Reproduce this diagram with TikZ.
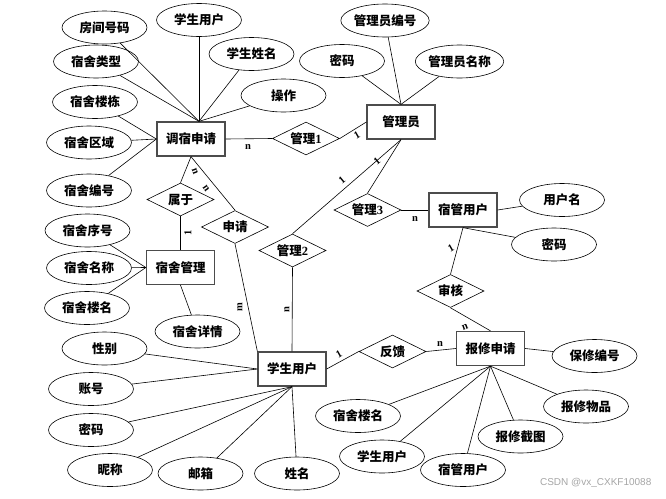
\documentclass[tikz,border=0pt]{standalone}
\usepackage{fontspec}
\setmainfont{Noto Sans CJK SC}
\newfontfamily\serifnum{Liberation Serif}
\newfontfamily\wmfont{Liberation Sans}
\usetikzlibrary{shapes.geometric}
\newcommand{\dg}[1]{{\serifnum\bfseries #1}}
\begin{document}
\begin{tikzpicture}[x=1pt,y=-1pt,
  every node/.style={font=\fontsize{12.5}{14}\selectfont\bfseries},
  ent/.style={draw=black!70, line width=1.3pt, rectangle, minimum width=68pt, minimum height=34pt, inner sep=0pt},
  rel/.style={draw, diamond, minimum width=67pt, minimum height=33pt, inner sep=0pt, aspect=2},
  attr/.style={draw, ellipse, minimum width=85pt, minimum height=33pt, inner sep=0pt},
  card/.style={font=\serifnum\fontsize{10.5}{10.5}\selectfont\bfseries, inner sep=0pt},
  conn/.style={line width=0.6pt},
  line width=0.6pt]
\fill[white] (0,0) rectangle (666,498);
\useasboundingbox (0,0) rectangle (666,498);

% entities
\node[ent] (tq) at (191,139) {调宿申请};
\node[ent] (gly) at (401,122) {管理员};
\node[ent] (sg) at (463,210) {宿管用户};
\node[ent] (sm) at (180.5,267.5) {宿舍管理};
\node[ent] (xs) at (292,369) {学生用户};
\node[ent] (bx) at (490.5,348.5) {报修申请};

% relations
\node[rel] (r1) at (306,138.5) {管理\dg{1}};
\node[rel] (r2) at (292.5,250.5) {管理\dg{2}};
\node[rel] (r3) at (367.5,210) {管理\dg{3}};
\node[rel] (sy) at (180.5,199.5) {属于};
\node[rel] (sq) at (235,227) {申请};
\node[rel] (sh) at (450.5,291) {审核};
\node[rel] (fk) at (392.5,351.5) {反馈};

% attributes of 调宿申请
\node[attr] (a1) at (104.5,27.5) {房间号码};
\node[attr] (a2) at (199,20) {学生用户};
\node[attr] (a3) at (251.5,54) {学生姓名};
\node[attr] (a4) at (96,61.5) {宿舍类型};
\node[attr] (a5) at (283.5,95.5) {操作};
\node[attr] (a6) at (95,102) {宿舍楼栋};
\node[attr] (a7) at (89,142.5) {宿舍区域};
\node[attr] (a8) at (89,190.5) {宿舍编号};

% attributes of 管理员
\node[attr] (b1) at (385,20.5) {管理员编号};
\node[attr] (b2) at (342,61) {密码};
\node[attr] (b3) at (459.5,61.5) {管理员名称};

% attributes of 宿管用户
\node[attr] (c1) at (562,200) {用户名};
\node[attr] (c2) at (554,244.5) {密码};

% attributes of 宿舍管理
\node[attr] (e1) at (87.5,230.5) {宿舍序号};
\node[attr] (e2) at (89,268) {宿舍名称};
\node[attr] (e3) at (87,308) {宿舍楼名};
\node[attr] (e4) at (197.5,331.5) {宿舍详情};

% attributes of 学生用户
\node[attr] (f1) at (104.5,348.5) {性别};
\node[attr] (f2) at (91,389) {账号};
\node[attr] (f3) at (91,430) {密码};
\node[attr] (f4) at (110,470) {昵称};
\node[attr] (f5) at (200.5,473.5) {邮箱};
\node[attr] (f6) at (297,473.5) {姓名};

% attributes of 报修申请
\node[attr] (d1) at (594.5,356) {保修编号};
\node[attr] (d2) at (586,406.5) {报修物品};
\node[attr] (d3) at (520.5,436.5) {报修截图};
\node[attr] (d4) at (463,470) {宿管用户};
\node[attr] (d5) at (382,456.5) {学生用户};
\node[attr] (d6) at (358,416) {宿舍楼名};

% connectors: 调宿申请
\coordinate (tqtop) at ([xshift=8pt]tq.north);
\foreach \n in {a1,a2,a3,a4,a5} \draw[conn] (\n) -- (tqtop);
\foreach \n in {a6,a7,a8} \draw[conn] (\n) -- (tq.west);
\draw[conn] (tq.east) -- (r1.west);
\draw[conn] (r1.east) -- (gly.west);
\draw[conn] (tq.south) -- (sy.north);
\draw[conn] (tq.south) -- (sq.north);

% 管理员
\foreach \n in {b1,b2,b3} \draw[conn] (\n) -- (gly.north);
\draw[conn] (gly.south) -- (r3.north);
\draw[conn] (gly.south) -- (r2.north);

% 宿管用户
\draw[conn] (r3.east) -- (sg.west);
\draw[conn] (sg.east) -- (c1);
\draw[conn] (sg.south) -- (c2);
\draw[conn] (sg.south) -- (sh.north);
\draw[conn] (sh.south) -- (bx.north);

% 宿舍管理
\draw[conn] (sy.south) -- (sm.north);
\foreach \n in {e1,e2,e3} \draw[conn] (\n) -- (sm.west);
\draw[conn] (sm.south) -- (e4);

% 学生用户
\draw[conn] (sq.south) -- (xs.north west);
\draw[conn] (r2.south) -- (xs.north);
\foreach \n in {f1,f2} \draw[conn] (\n) -- (xs.west);
\foreach \n in {f3,f4,f5,f6} \draw[conn] (\n) -- (xs.south);
\draw[conn] (xs.east) -- (fk.west);
\draw[conn] (fk.east) -- (bx.west);

% 报修申请
\draw[conn] (bx.east) -- (d1);
\foreach \n in {d2,d3,d4,d5,d6} \draw[conn] (\n) -- (bx.south);

% cardinality labels
\node[card] (k1) at (248,147) {n};
\node[card] (k2) at (357,135) [rotate=30] {1};
\node[card, rotate=-70] (k3) at (195,171) {n};
\node[card, rotate=-55] (k4) at (206,188) {n};
\node[card, rotate=90] (k5) at (188,233) {1};
\node[card, rotate=40] (k6) at (377,161) {1};
\node[card, rotate=40] (k7) at (342,180) {1};
\node[card] (k8) at (415,219) {n};
\node[card, rotate=30] (k9) at (451,248) {1};
\node[card, rotate=20] (k10) at (465,327) {n};
\node[card, rotate=30] (k11) at (339,354) {1};
\node[card] (k12) at (440,344) {n};
\node[card, rotate=90] (k13) at (240,307) {m};
\node[card, rotate=90] (k14) at (287,310) {n};

% watermark
\node[font=\wmfont\fontsize{10}{10}\selectfont, text=black!35, anchor=east] (wm) at (655,483) {CSDN @vx\_CXKF10088};
\end{tikzpicture}
\end{document}
